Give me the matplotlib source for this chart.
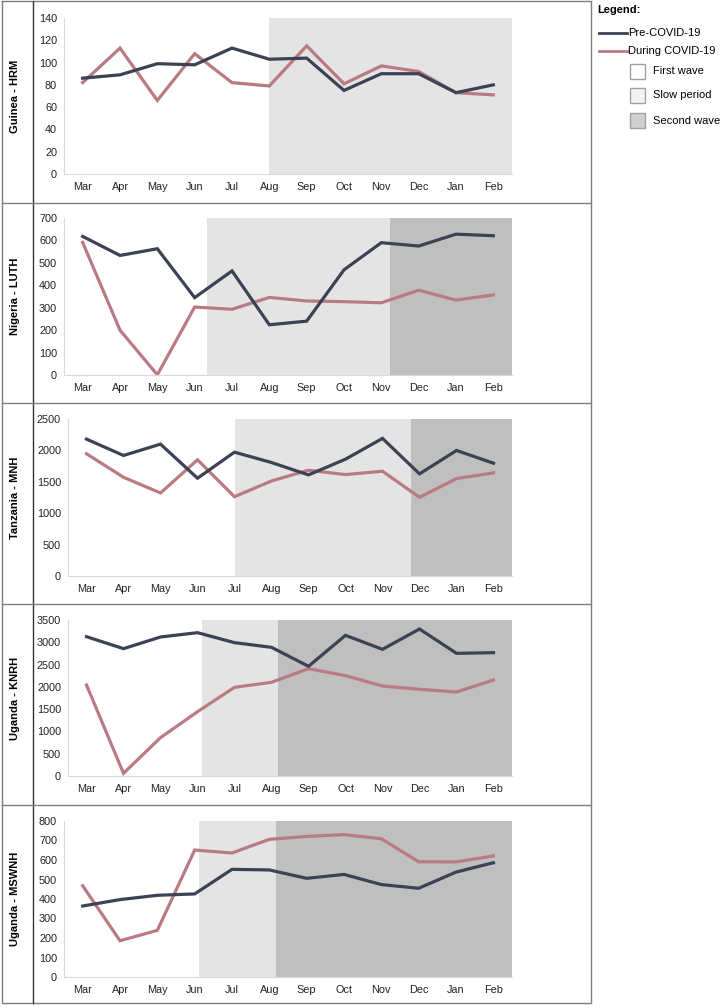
import matplotlib
matplotlib.use("Agg")
import matplotlib.pyplot as plt
from matplotlib.lines import Line2D
from matplotlib.patches import Rectangle

plt.rcParams['font.family'] = ['Liberation Sans', 'DejaVu Sans']

months = ["Mar", "Apr", "May", "Jun", "Jul", "Aug", "Sep", "Oct", "Nov", "Dec", "Jan", "Feb"]

sites = ["Guinea - HRM", "Nigeria - LUTH", "Tanzania - MNH", "Uganda - KNRH", "Uganda - MSWNH"]

pre_covid = [
    [86, 89, 99, 98, 113, 103, 104, 75, 90, 90, 73, 80],
    [618, 533, 563, 345, 464, 224, 240, 469, 590, 575, 628, 621],
    [2180, 1919, 2100, 1557, 1972, 1807, 1610, 1860, 2191, 1626, 1999, 1796],
    [3126, 2857, 3119, 3216, 2992, 2887, 2461, 3156, 2842, 3298, 2752, 2767],
    [364, 397, 419, 426, 552, 549, 506, 526, 474, 455, 538, 586],
]

during_covid = [
    [82, 113, 66, 108, 82, 79, 115, 81, 97, 92, 73, 71],
    [591, 200, 1, 303, 293, 346, 330, 327, 322, 378, 334, 357],
    [1946, 1572, 1322, 1850, 1263, 1514, 1684, 1615, 1668, 1253, 1551, 1642],
    [2042, 60, 860, 1443, 1990, 2102, 2408, 2251, 2019, 1945, 1885, 2154],
    [468, 186, 239, 651, 636, 706, 721, 730, 709, 591, 590, 621],
]

y_max = [140, 700, 2500, 3500, 800]
y_step = [20, 100, 500, 500, 100]

# (start, end) of slow period and second wave, in month-index units
slow_period = [(5.0, 11.5), (3.33, 8.24), (4.0, 8.77), (3.12, 5.18), (3.11, 5.17)]
second_wave = [None, (8.24, 11.5), (8.77, 11.5), (5.18, 11.5), (5.17, 11.5)]

DARK = "#3a4254"
PINK = "#b97a82"
LIGHT_SHADE = "#e4e4e4"
DARK_SHADE = "#bfbfbf"
GRID = "#d9d9d9"
BORDER = "#7f7f7f"

W, H = 720, 1008
fig = plt.figure(figsize=(W / 100, H / 100), dpi=100)

panel_px = [(18, 174), (218, 375), (419, 576), (620, 776), (821, 977)]
left_px = [64, 64, 68, 68, 64]
right_px = 512

for i, site in enumerate(sites):
    top, bottom = panel_px[i]
    ax = fig.add_axes([left_px[i] / W, 1 - bottom / H,
                       (right_px - left_px[i]) / W, (bottom - top) / H])
    x = list(range(len(months)))
    s0, s1 = slow_period[i]
    ax.axvspan(s0, s1, color=LIGHT_SHADE, lw=0, zorder=0)
    if second_wave[i] is not None:
        ax.axvspan(second_wave[i][0], second_wave[i][1], color=DARK_SHADE, lw=0, zorder=0)
    ax.plot(x, pre_covid[i], color=DARK, lw=2.3, solid_joinstyle="miter", zorder=3)
    ax.plot(x, during_covid[i], color=PINK, lw=2.3, solid_joinstyle="miter", zorder=2)
    ax.set_xlim(-0.5, 11.5)
    ax.set_ylim(0, y_max[i])
    ax.set_yticks(range(0, y_max[i] + 1, y_step[i]))
    ax.set_xticks(x)
    ax.set_xticklabels(months)
    ax.tick_params(length=0, labelsize=7.8, colors="#222222", pad=6)
    ax.tick_params(axis="y", pad=5)
    for side in ("top", "right"):
        ax.spines[side].set_visible(False)
    for side in ("left", "bottom"):
        ax.spines[side].set_color(GRID)
        ax.spines[side].set_linewidth(0.8)
    fig.text(15 / W, 1 - (top + bottom) / 2 / H, site, rotation=90, ha="center",
             va="center", fontsize=8, fontweight="bold")

# table frame around the panels
row_lines = [203, 403, 604, 805]
frame_kw = dict(color=BORDER, lw=1.0, transform=fig.transFigure)
fig.add_artist(Line2D([2 / W, 591 / W, 591 / W, 2 / W, 2 / W],
                      [1 - 1 / H, 1 - 1 / H, 1 - 1003 / H, 1 - 1003 / H, 1 - 1 / H], **frame_kw))
fig.add_artist(Line2D([33 / W, 33 / W], [1 - 1 / H, 1 - 1003 / H], color="#333333", lw=1.0,
                      transform=fig.transFigure))
for y in row_lines:
    fig.add_artist(Line2D([2 / W, 591 / W], [1 - y / H, 1 - y / H], **frame_kw))

# legend
fig.text(597 / W, 1 - 10 / H, "Legend:", fontsize=8, fontweight="bold", va="center")
for label, color, y in [("Pre-COVID-19", DARK, 33), ("During COVID-19", PINK, 51)]:
    fig.add_artist(Line2D([599 / W, 627 / W], [1 - y / H, 1 - y / H], color=color, lw=2.0,
                          transform=fig.transFigure))
    fig.text(628 / W, 1 - y / H, label, fontsize=8, va="center")
for label, face, y in [("First wave", "white", 64), ("Slow period", "#f2f2f2", 88),
                       ("Second wave", "#d0d0d0", 113)]:
    fig.add_artist(Rectangle((630 / W, 1 - (y + 15) / H), 15 / W, 15 / H, facecolor=face,
                             edgecolor="#a0a0a0", lw=1.0, transform=fig.transFigure))
    fig.text(653 / W, 1 - (y + 7.5) / H, label, fontsize=8, va="center")

fig.savefig("out.png", dpi=100)
